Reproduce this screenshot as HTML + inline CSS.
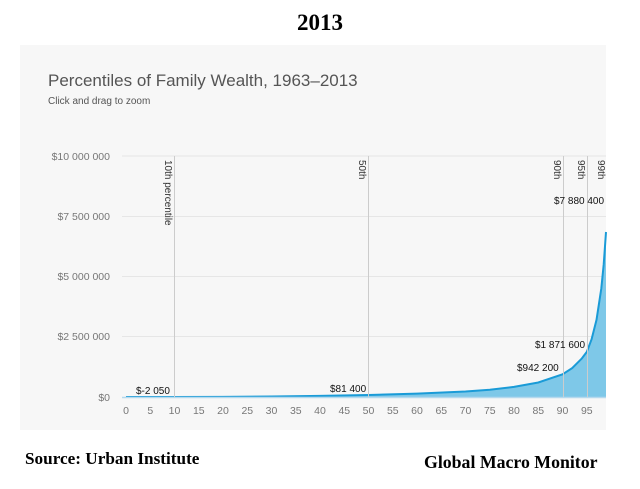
<!DOCTYPE html>
<html><head><meta charset="utf-8"><style>
body{margin:0;width:640px;height:489px;background:#fff;position:relative;overflow:hidden;font-family:"Liberation Sans",sans-serif}
.t{position:absolute;font-family:"Liberation Serif",serif;font-weight:bold}
</style></head><body>
<div class="t" style="left:0;width:640px;text-align:center;top:10px;font-size:23px">2013</div>
<div class="t" style="left:25px;top:449px;font-size:17.2px">Source: Urban Institute</div>
<div class="t" style="left:424px;top:452px;font-size:17.8px">Global Macro Monitor</div>
<svg style="position:absolute;left:0;top:0" width="640" height="489" font-family="Liberation Sans, sans-serif">
<rect x="20" y="45" width="586" height="385" fill="#f7f7f7"/>
<text x="48" y="86" font-size="17" fill="#555">Percentiles of Family Wealth, 1963–2013</text>
<text x="48" y="104" font-size="10" fill="#555">Click and drag to zoom</text>
<g stroke="#e6e6e6" stroke-width="1">
<line x1="122" x2="606" y1="156" y2="156"/><line x1="122" x2="606" y1="216.5" y2="216.5"/>
<line x1="122" x2="606" y1="276.5" y2="276.5"/><line x1="122" x2="606" y1="336.5" y2="336.5"/>
</g>
<g font-size="10.5" fill="#777" text-anchor="end">
<text x="110" y="160">$10 000 000</text><text x="110" y="220">$7 500 000</text>
<text x="110" y="280">$5 000 000</text><text x="110" y="340">$2 500 000</text><text x="110" y="401">$0</text>
</g>
<path d="M126,397 L174.5,397 L223,396.9 L271.5,396.5 L320,395.9 L368.5,395 L417,393.6 L465.5,391.5 L489.8,389.8 L514,386.9 L538.3,382.5 L562.5,374.3 L572.2,368.1 L581.9,358.4 L586.8,351.9 L591.6,339.2 L596.5,319.9 L601.3,288.5 L603.7,264.5 L606,232 L606,397 Z" fill="#7ec8e8"/>
<path d="M126,397 L174.5,397 L223,396.9 L271.5,396.5 L320,395.9 L368.5,395 L417,393.6 L465.5,391.5 L489.8,389.8 L514,386.9 L538.3,382.5 L562.5,374.3 L572.2,368.1 L581.9,358.4 L586.8,351.9 L591.6,339.2 L596.5,319.9 L601.3,288.5 L603.7,264.5 L606,232" fill="none" stroke="#1a9bd7" stroke-width="2"/>
<g stroke="#ccc" stroke-width="1">
<line x1="174.5" x2="174.5" y1="156" y2="397"/><line x1="368.5" x2="368.5" y1="156" y2="397"/>
<line x1="563.5" x2="563.5" y1="156" y2="397"/><line x1="587.5" x2="587.5" y1="156" y2="397"/>
</g>
<line x1="122" x2="606" y1="397.5" y2="397.5" stroke="#b5d9ee" stroke-width="1.5"/>
<g font-size="10" fill="#333">
<text transform="translate(165,160) rotate(90)">10th percentile</text>
<text transform="translate(359,160) rotate(90)">50th</text>
<text transform="translate(554,160) rotate(90)">90th</text>
<text transform="translate(578,160) rotate(90)">95th</text>
<text transform="translate(598,160) rotate(90)">99th</text>
</g>
<g font-size="10" fill="#111">
<text x="136" y="394">$-2 050</text><text x="330" y="392">$81 400</text>
<text x="517" y="371">$942 200</text><text x="535" y="348">$1 871 600</text>
<text x="554" y="204">$7 880 400</text>
</g>
<g font-size="10.5" fill="#777" text-anchor="middle">
<text x="126" y="414">0</text><text x="150.3" y="414">5</text><text x="174.5" y="414">10</text><text x="198.8" y="414">15</text><text x="223" y="414">20</text><text x="247.3" y="414">25</text><text x="271.5" y="414">30</text><text x="295.8" y="414">35</text><text x="320" y="414">40</text><text x="344.3" y="414">45</text><text x="368.5" y="414">50</text><text x="392.8" y="414">55</text><text x="417" y="414">60</text><text x="441.3" y="414">65</text><text x="465.5" y="414">70</text><text x="489.8" y="414">75</text><text x="514" y="414">80</text><text x="538.3" y="414">85</text><text x="562.5" y="414">90</text><text x="586.8" y="414">95</text>
</g>
</svg>
</body></html>
